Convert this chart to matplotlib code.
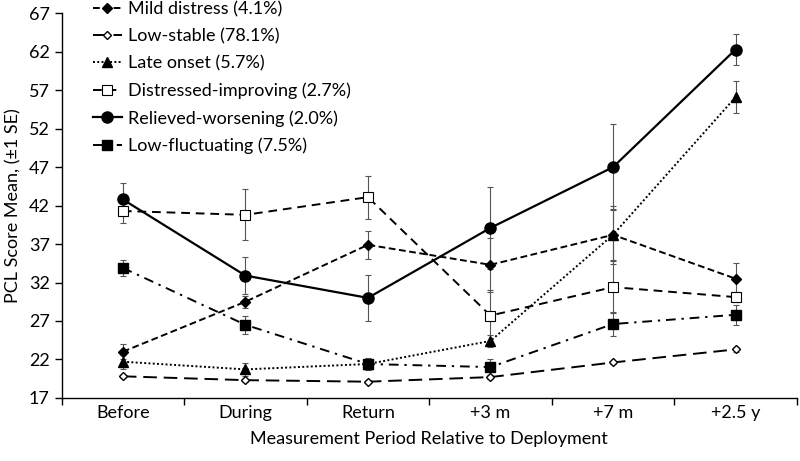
import numpy as np
import matplotlib
matplotlib.use("Agg")
import matplotlib.pyplot as plt

plt.rcParams['font.family'] = ['Lato', 'DejaVu Sans']

periods = ['Before', 'During', 'Return', '+3 m', '+7 m', '+2.5 y']

mild = [23.0, 29.5, 36.9, 34.3, 38.2, 32.5]
mild_se = [1.0, 0.8, 1.8, 3.5, 3.8, 2.1]
low_stable = [19.8, 19.3, 19.1, 19.7, 21.6, 23.3]
low_stable_se = [0.2, 0.2, 0.2, 0.2, 0.2, 0.3]
late = [21.7, 20.7, 21.4, 24.4, 38.2, 56.1]
late_se = [0.9, 0.8, 0.6, 0.8, 3.3, 2.1]
dist_impr = [41.3, 40.8, 43.1, 27.7, 31.4, 30.1]
dist_impr_se = [1.5, 3.3, 2.8, 3.3, 3.4, 0.7]
reliev = [42.8, 32.9, 30.0, 39.1, 47.0, 62.3]
reliev_se = [2.1, 2.4, 3.0, 5.3, 5.6, 2.0]
low_fluct = [33.9, 26.5, 21.4, 21.0, 26.6, 27.8]
low_fluct_se = [1.0, 1.15, 0.8, 1.0, 1.5, 1.3]

labels = ['Mild distress (4.1%)', 'Low-stable (78.1%)', 'Late onset (5.7%)',
          'Distressed-improving (2.7%)', 'Relieved-worsening (2.0%)',
          'Low-fluctuating (7.5%)']

x = np.arange(len(periods)) + 0.5

fig = plt.figure(figsize=(8, 4.61), dpi=100)
ax = fig.add_axes([0.077, 0.137, 0.919, 0.834])

series = [
    (mild, mild_se, dict(ls=(0, (3.5, 1.8)), marker='D', ms=5.5, mfc='black', lw=1.4)),
    (low_stable, low_stable_se, dict(ls=(0, (7, 3.5)), marker='D', ms=4.5, mfc='white', lw=1.4)),
    (late, late_se, dict(ls=(0, (1, 1.2)), marker='^', ms=6.5, mfc='black', lw=1.4)),
    (dist_impr, dist_impr_se, dict(ls=(0, (4.5, 3)), marker='s', ms=6.5, mfc='white', mew=0.8, lw=1.4)),
    (reliev, reliev_se, dict(ls='-', marker='o', ms=8, mfc='black', lw=1.6)),
    (low_fluct, low_fluct_se, dict(ls=(0, (5, 3, 1.2, 3)), marker='s', ms=7, mfc='black', lw=1.4)),
]

handles = []
for (vals, se, st), lab in zip(series, labels):
    ax.errorbar(x, vals, yerr=se, fmt='none', ecolor='#555555', elinewidth=0.8,
                capsize=2.5, capthick=0.8, zorder=1)
    h, = ax.plot(x, vals, color='black', mec='black', label=lab, zorder=3, **st)
    handles.append(h)

ax.set_xlim(0, 6)
ax.set_ylim(17, 67)
ax.set_yticks(np.arange(17, 68, 5))
ax.set_xticks(np.arange(0, 7))
ax.set_xticklabels([])
ax.set_xticks(x, minor=True)
ax.set_xticklabels(periods, minor=True)
ax.tick_params(axis='x', which='minor', length=0, pad=5, labelsize=13)
ax.tick_params(axis='x', which='major', length=5, width=1)
ax.tick_params(axis='y', length=5, width=1, labelsize=13)

for s in ['top', 'right']:
    ax.spines[s].set_visible(False)
for s in ['left', 'bottom']:
    ax.spines[s].set_linewidth(1)

ax.set_ylabel('PCL Score Mean, (±1 SE)', fontsize=13, labelpad=5)
ax.set_xlabel('Measurement Period Relative to Deployment', fontsize=13, labelpad=7)

ax.legend(handles=handles, loc='upper left', bbox_to_anchor=(0.107, 1.012),
          bbox_transform=fig.transFigure, frameon=False, fontsize=13,
          handlelength=1.6, handletextpad=0.35, labelspacing=0.6, borderaxespad=0)

fig.savefig('out.png', dpi=100)
